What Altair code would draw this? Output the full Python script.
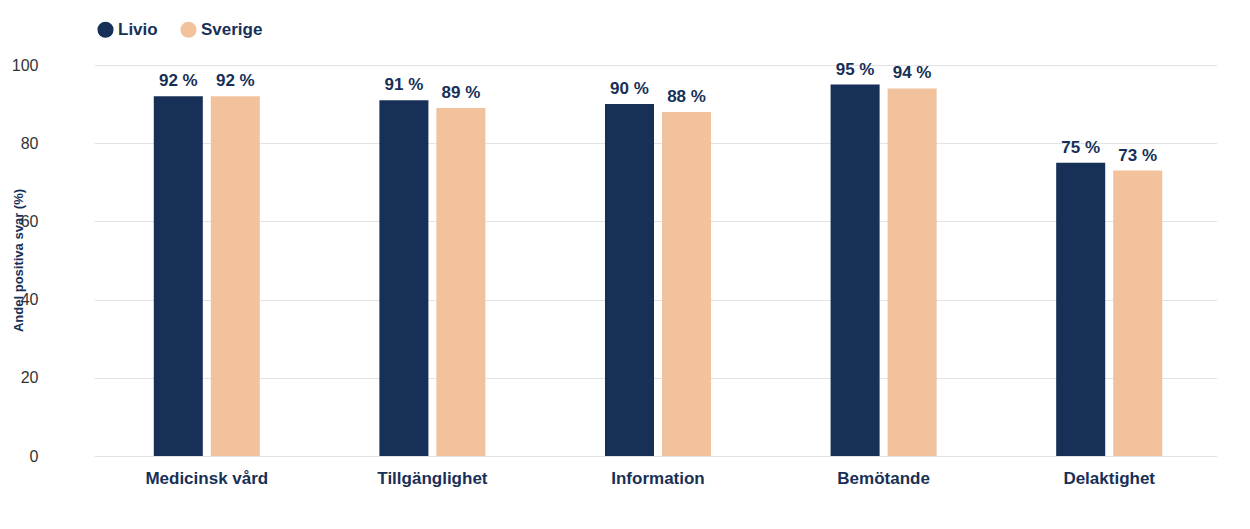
import altair as alt
import pandas as pd

categories = ["Medicinsk vård", "Tillgänglighet", "Information", "Bemötande", "Delaktighet"]
livio = [92, 91, 90, 95, 75]
sverige = [92, 89, 88, 94, 73]

rows = []
for c, a, b in zip(categories, livio, sverige):
    rows.append({"cat": c, "serie": "Livio", "v": a, "lbl": f"{a} %"})
    rows.append({"cat": c, "serie": "Sverige", "v": b, "lbl": f"{b} %"})
df = pd.DataFrame(rows)

navy = "#173057"
peach = "#F2C29C"
font = "Liberation Sans"

x = alt.X("cat:N", sort=categories, title=None,
          scale=alt.Scale(range=[46, 1174], paddingInner=0.53, paddingOuter=0.265),
          axis=alt.Axis(labelAngle=0, labelFont=font, labelFontSize=17, labelFontWeight="bold",
                        labelColor=navy, labelPadding=14, ticks=False, domain=False))
xo = alt.XOffset("serie:N", scale=alt.Scale(paddingInner=0.14))
y = alt.Y("v:Q", scale=alt.Scale(domain=[0, 100]), title="Andel positiva svar (%)",
          axis=alt.Axis(values=[0, 20, 40, 60, 80, 100], labelFont=font, labelFontSize=16,
                        labelColor="#333333", titleFont=font, titleFontSize=13,
                        titleFontWeight="bold", titleColor=navy, gridColor="#e3e3e3",
                        domain=False, ticks=False, labelPadding=10,
                        titleX=-30, titleY=195, titleAnchor="middle", titleBaseline="middle"))

bars = alt.Chart(df).mark_bar().encode(
    x=x, xOffset=xo, y=y,
    color=alt.Color("serie:N", scale=alt.Scale(domain=["Livio", "Sverige"], range=[navy, peach]),
                    legend=alt.Legend(title=None, orient="none", legendX=49, legendY=-44,
                                      direction="horizontal", symbolType="circle", symbolSize=260,
                                      labelFont=font, labelFontSize=17, labelFontWeight="bold",
                                      labelColor=navy, columnPadding=22, symbolStrokeWidth=0)))
text = alt.Chart(df).mark_text(dy=-15, font=font, fontSize=17, fontWeight="bold", color=navy).encode(
    x=x, xOffset=xo, y="v:Q", text="lbl:N")

chart = (bars + text).properties(
    width=1169, height=391,
    autosize=alt.AutoSizeParams(type="none"),
    padding={"left": 40, "top": 57, "right": 0, "bottom": 60},
).configure_view(stroke=None)
chart.save("out.html", embed_options={"renderer": "svg", "actions": False})
